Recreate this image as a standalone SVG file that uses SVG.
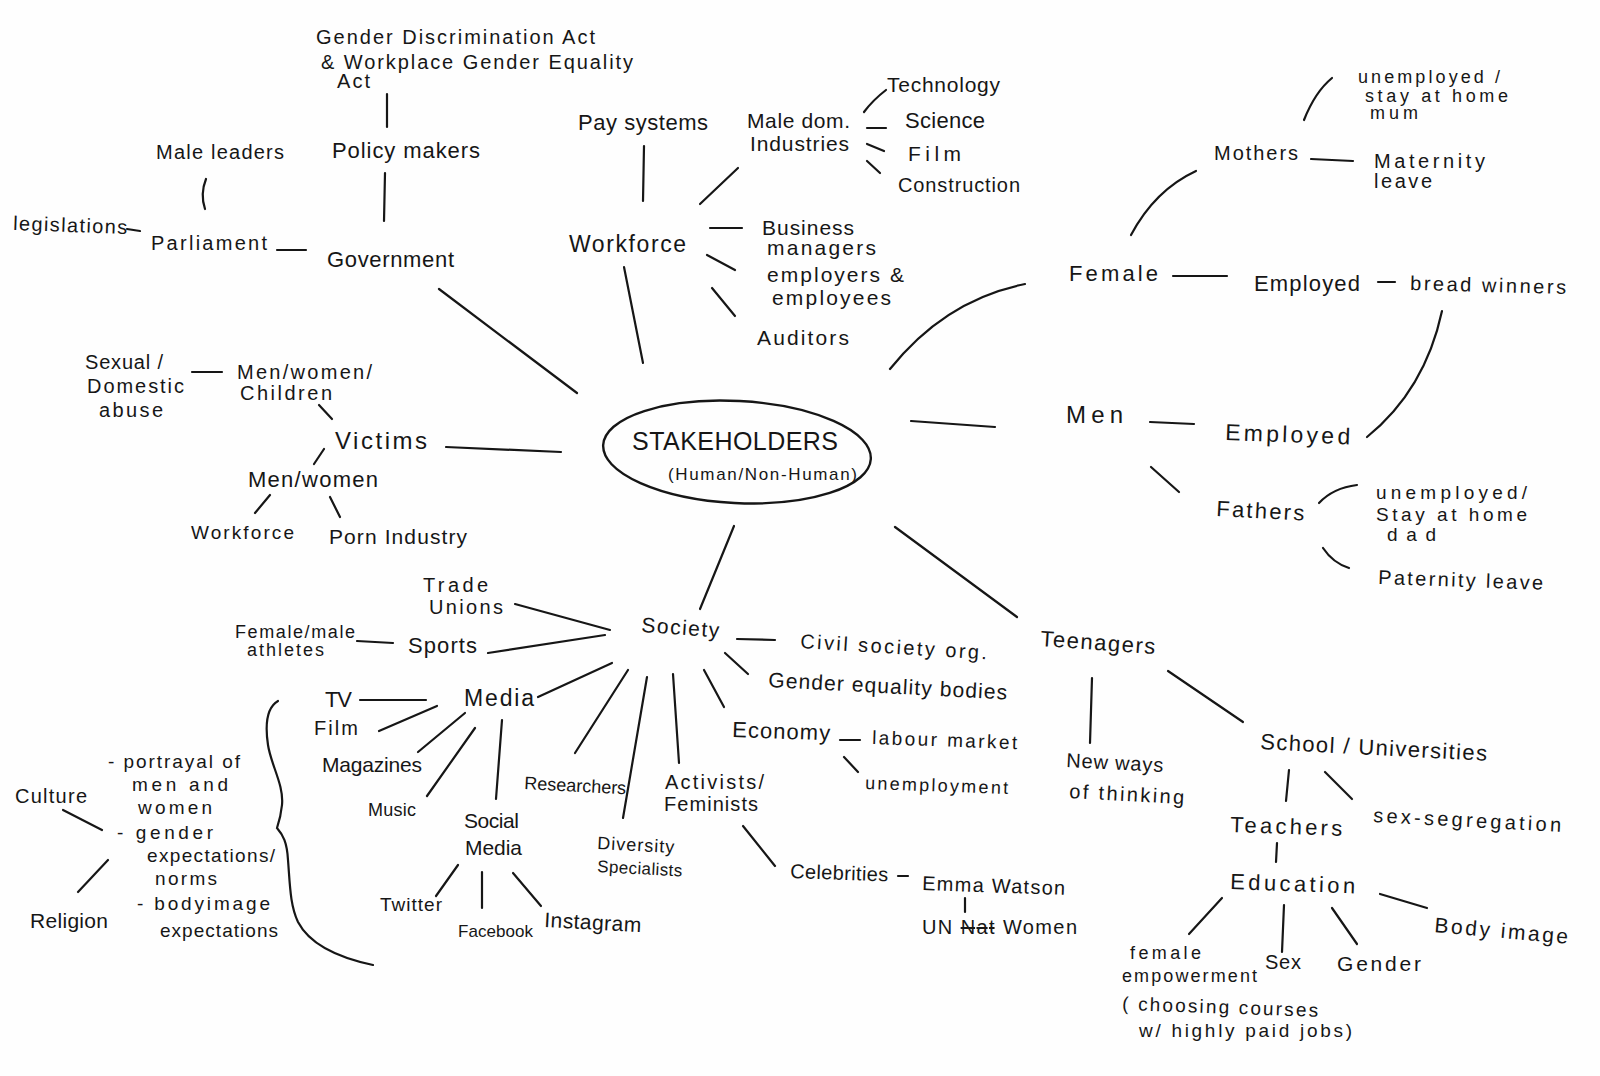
<svg xmlns="http://www.w3.org/2000/svg" width="1600" height="1076" viewBox="0 0 1600 1076">
<style>
text{font-family:"Liberation Sans",Arial,sans-serif;fill:#161616}
.s16{font-size:16px}.s17{font-size:17px}.s18{font-size:18px}.s19{font-size:19px}.s20{font-size:20px}.s21{font-size:21px}.s22{font-size:22px}.s23{font-size:23px}.s24{font-size:24px}.s25{font-size:25px}
#connectors path,#connectors line{stroke:#161616;stroke-width:2.2;fill:none;stroke-linecap:round}
</style>
<rect width="1600" height="1076" fill="#fefefe"/>
<g id="connectors">
<line x1="387" y1="94" x2="387" y2="127"/>
<line x1="385" y1="173" x2="384" y2="221"/>
<path d="M206,179 Q200,194 205,209"/>
<line x1="127" y1="229" x2="140" y2="231"/>
<line x1="277" y1="250" x2="306" y2="250"/>
<line x1="439" y1="289" x2="577" y2="393"/>
<line x1="644" y1="146" x2="643" y2="201"/>
<line x1="624" y1="267" x2="643" y2="363"/>
<line x1="700" y1="204" x2="738" y2="168"/>
<path d="M864,112 Q873,100 886,90"/>
<line x1="867" y1="128" x2="886" y2="128"/>
<line x1="867" y1="144" x2="884" y2="151"/>
<line x1="867" y1="161" x2="880" y2="173"/>
<line x1="710" y1="228" x2="742" y2="228"/>
<line x1="707" y1="255" x2="735" y2="270"/>
<line x1="712" y1="288" x2="735" y2="316"/>
<path d="M890,369 Q945,300 1025,284"/>
<path d="M1131,235 Q1155,190 1196,171"/>
<path d="M1304,120 Q1315,92 1332,78"/>
<line x1="1311" y1="159" x2="1353" y2="161"/>
<line x1="1173" y1="276" x2="1227" y2="276"/>
<line x1="1378" y1="282" x2="1395" y2="282"/>
<path d="M1442,311 Q1425,390 1367,437"/>
<line x1="911" y1="421" x2="995" y2="427"/>
<line x1="1150" y1="422" x2="1194" y2="424"/>
<line x1="1151" y1="467" x2="1179" y2="492"/>
<path d="M1319,503 Q1333,488 1357,485"/>
<path d="M1323,548 Q1333,563 1349,568"/>
<line x1="895" y1="527" x2="1017" y2="617"/>
<line x1="192" y1="372" x2="222" y2="372"/>
<line x1="319" y1="405" x2="332" y2="419"/>
<line x1="446" y1="447" x2="561" y2="452"/>
<line x1="324" y1="449" x2="314" y2="464"/>
<line x1="270" y1="495" x2="255" y2="513"/>
<line x1="330" y1="497" x2="340" y2="517"/>
<line x1="734" y1="526" x2="700" y2="609"/>
<line x1="515" y1="604" x2="610" y2="630"/>
<line x1="357" y1="641" x2="393" y2="643"/>
<line x1="488" y1="653" x2="605" y2="635"/>
<line x1="737" y1="639" x2="775" y2="640"/>
<line x1="725" y1="653" x2="748" y2="674"/>
<line x1="704" y1="670" x2="724" y2="707"/>
<line x1="840" y1="740" x2="860" y2="740"/>
<line x1="844" y1="757" x2="858" y2="772"/>
<line x1="673" y1="674" x2="679" y2="763"/>
<line x1="647" y1="677" x2="623" y2="818"/>
<line x1="628" y1="670" x2="575" y2="753"/>
<line x1="612" y1="663" x2="538" y2="697"/>
<line x1="360" y1="700" x2="426" y2="700"/>
<line x1="379" y1="731" x2="437" y2="706"/>
<line x1="418" y1="752" x2="465" y2="713"/>
<line x1="427" y1="796" x2="475" y2="728"/>
<line x1="496" y1="799" x2="502" y2="720"/>
<line x1="458" y1="865" x2="436" y2="896"/>
<line x1="482" y1="872" x2="482" y2="908"/>
<line x1="513" y1="873" x2="541" y2="906"/>
<line x1="743" y1="826" x2="775" y2="866"/>
<line x1="898" y1="876" x2="908" y2="876"/>
<line x1="965" y1="898" x2="965" y2="912"/>
<path d="M278,701 C266,708 265,725 268,745 C271,765 284,785 282,805 C281,815 279,822 277,828 C283,835 287,842 288,860 C290,885 290,905 298,922 C310,945 340,958 373,965"/>
<line x1="63" y1="810" x2="102" y2="830"/>
<line x1="108" y1="860" x2="78" y2="892"/>
<line x1="1092" y1="678" x2="1090" y2="743"/>
<line x1="1168" y1="671" x2="1243" y2="722"/>
<line x1="1289" y1="770" x2="1286" y2="801"/>
<line x1="1325" y1="772" x2="1352" y2="799"/>
<line x1="1277" y1="843" x2="1276" y2="862"/>
<line x1="1222" y1="898" x2="1189" y2="934"/>
<line x1="1284" y1="905" x2="1282" y2="952"/>
<line x1="1332" y1="908" x2="1357" y2="944"/>
<line x1="1380" y1="894" x2="1427" y2="908"/>
</g>
<g id="center">
<ellipse cx="737" cy="452" rx="134" ry="51" transform="rotate(3 737 452)" fill="none" stroke="#161616" stroke-width="2.4"/>
<text class="s25" x="632" y="450" textLength="206">STAKEHOLDERS</text>
<text class="s17" x="668" y="480" textLength="189">(Human/Non-Human)</text>
</g>
<g id="gda"><text class="s20" x="316" y="44" textLength="279">Gender Discrimination Act</text><text class="s20" x="321" y="69" textLength="312">&amp; Workplace Gender Equality</text><text class="s20" x="337" y="88" textLength="33">Act</text></g>
<g id="policy"><text class="s22" x="332" y="158" textLength="148">Policy makers</text></g>
<g id="maleleaders"><text class="s20" x="156" y="159" textLength="128">Male leaders</text></g>
<g id="legislations"><text class="s20" x="13" y="230" textLength="114" transform="rotate(2 13 230)">legislations</text></g>
<g id="parliament"><text class="s20" x="151" y="250" textLength="116">Parliament</text></g>
<g id="government"><text class="s22" x="327" y="267" textLength="127">Government</text></g>
<g id="pay"><text class="s22" x="578" y="130" textLength="130">Pay systems</text></g>
<g id="workforce"><text class="s23" x="569" y="252" textLength="117">Workforce</text></g>
<g id="maledom"><text class="s21" x="747" y="128" textLength="103">Male dom.</text><text class="s21" x="750" y="151" textLength="99">Industries</text></g>
<g id="technology"><text class="s21" x="887" y="92" textLength="113">Technology</text></g>
<g id="science"><text class="s22" x="905" y="128" textLength="80">Science</text></g>
<g id="film1"><text class="s21" x="908" y="161" textLength="53">Film</text></g>
<g id="construction"><text class="s20" x="898" y="192" textLength="122">Construction</text></g>
<g id="business"><text class="s21" x="762" y="235" textLength="92">Business</text><text class="s21" x="767" y="255" textLength="109">managers</text></g>
<g id="employers"><text class="s21" x="767" y="282" textLength="137">employers &amp;</text><text class="s21" x="772" y="305" textLength="119">employees</text></g>
<g id="auditors"><text class="s21" x="757" y="345" textLength="92">Auditors</text></g>
<g id="unemp-mum"><text class="s18" x="1358" y="83" textLength="142">unemployed /</text><text class="s18" x="1365" y="102" textLength="143">stay at home</text><text class="s18" x="1370" y="119" textLength="48">mum</text></g>
<g id="mothers"><text class="s20" x="1214" y="160" textLength="84">Mothers</text></g>
<g id="maternity"><text class="s20" x="1374" y="168" textLength="111">Maternity</text><text class="s20" x="1374" y="188" textLength="58">leave</text></g>
<g id="female"><text class="s22" x="1069" y="281" textLength="89">Female</text></g>
<g id="employed-f"><text class="s22" x="1254" y="291" textLength="106">Employed</text></g>
<g id="breadwinners"><text class="s20" x="1410" y="290" textLength="156" transform="rotate(1.5 1410 290)">bread winners</text></g>
<g id="men"><text class="s24" x="1066" y="423" textLength="57">Men</text></g>
<g id="employed-m"><text class="s23" x="1225" y="440" textLength="125" transform="rotate(2 1225 440)">Employed</text></g>
<g id="fathers"><text class="s22" x="1216" y="516" textLength="88" transform="rotate(3 1216 516)">Fathers</text></g>
<g id="unemp-dad"><text class="s19" x="1376" y="499" textLength="151">unemployed/</text><text class="s19" x="1376" y="521" textLength="151">Stay at home</text><text class="s19" x="1387" y="541" textLength="49">dad</text></g>
<g id="paternity"><text class="s20" x="1378" y="584" textLength="165" transform="rotate(2 1378 584)">Paternity leave</text></g>
<g id="teenagers"><text class="s22" x="1040" y="646" textLength="115" transform="rotate(4 1040 646)">Teenagers</text></g>
<g id="sexual"><text class="s20" x="85" y="369" textLength="78">Sexual /</text><text class="s20" x="87" y="393" textLength="97">Domestic</text><text class="s20" x="99" y="417" textLength="64">abuse</text></g>
<g id="mwc"><text class="s20" x="237" y="379" textLength="135">Men/women/</text><text class="s20" x="240" y="400" textLength="92">Children</text></g>
<g id="victims"><text class="s24" x="335" y="449" textLength="92">Victims</text></g>
<g id="mw"><text class="s22" x="248" y="487" textLength="130">Men/women</text></g>
<g id="workforce2"><text class="s19" x="191" y="539" textLength="103">Workforce</text></g>
<g id="porn"><text class="s21" x="329" y="544" textLength="138">Porn Industry</text></g>
<g id="trade"><text class="s20" x="423" y="592" textLength="65">Trade</text><text class="s20" x="429" y="614" textLength="74">Unions</text></g>
<g id="athletes"><text class="s18" x="235" y="638" textLength="120">Female/male</text><text class="s18" x="247" y="656" textLength="77">athletes</text></g>
<g id="sports"><text class="s22" x="408" y="653" textLength="69">Sports</text></g>
<g id="society"><text class="s21" x="641" y="632" textLength="78" transform="rotate(4 641 632)">Society</text></g>
<g id="civil"><text class="s20" x="800" y="648" textLength="187" transform="rotate(3.5 800 648)">Civil society org.</text></g>
<g id="gendereq"><text class="s21" x="768" y="687" textLength="239" transform="rotate(3 768 687)">Gender equality bodies</text></g>
<g id="economy"><text class="s22" x="732" y="737" textLength="98" transform="rotate(2 732 737)">Economy</text></g>
<g id="labour"><text class="s19" x="872" y="744" textLength="145" transform="rotate(2 872 744)">labour market</text></g>
<g id="unemployment"><text class="s18" x="865" y="789" textLength="143" transform="rotate(2 865 789)">unemployment</text></g>
<g id="media"><text class="s23" x="464" y="706" textLength="70">Media</text></g>
<g id="tv"><text class="s22" x="325" y="707" textLength="27">TV</text></g>
<g id="film2"><text class="s20" x="314" y="735" textLength="44">Film</text></g>
<g id="magazines"><text class="s21" x="322" y="772" textLength="100">Magazines</text></g>
<g id="music"><text class="s18" x="368" y="816" textLength="48">Music</text></g>
<g id="socialmedia"><text class="s21" x="464" y="828" textLength="55">Social</text><text class="s21" x="465" y="855" textLength="57">Media</text></g>
<g id="twitter"><text class="s19" x="380" y="911" textLength="62">Twitter</text></g>
<g id="facebook"><text class="s17" x="458" y="937" textLength="75">Facebook</text></g>
<g id="instagram"><text class="s21" x="544" y="927" textLength="97" transform="rotate(3 544 927)">Instagram</text></g>
<g id="researchers"><text class="s18" x="524" y="789" textLength="102" transform="rotate(3 524 789)">Researchers</text></g>
<g id="diversity"><text class="s18" x="597" y="849" textLength="77" transform="rotate(3 597 849)">Diversity</text><text class="s17" x="597" y="872" textLength="85" transform="rotate(3 597 872)">Specialists</text></g>
<g id="activists"><text class="s20" x="665" y="789" textLength="99">Activists/</text><text class="s20" x="664" y="811" textLength="94">Feminists</text></g>
<g id="celebrities"><text class="s20" x="790" y="878" textLength="98" transform="rotate(2 790 878)">Celebrities</text></g>
<g id="emma"><text class="s20" x="922" y="890" textLength="143" transform="rotate(2 922 890)">Emma Watson</text></g>
<g id="un"><text class="s20" x="922" y="934" textLength="155">UN <tspan text-decoration="line-through">Nat</tspan> Women</text></g>
<g id="portrayal"><text class="s19" x="108" y="768" textLength="132">- portrayal of</text><text class="s19" x="132" y="791" textLength="96">men and</text><text class="s19" x="138" y="814" textLength="74">women</text><text class="s19" x="117" y="839" textLength="96">-  gender</text><text class="s19" x="147" y="862" textLength="128">expectations/</text><text class="s19" x="155" y="885" textLength="62">norms</text><text class="s19" x="137" y="910" textLength="133">- bodyimage</text><text class="s19" x="160" y="937" textLength="118">expectations</text></g>
<g id="culture"><text class="s20" x="15" y="803" textLength="72">Culture</text></g>
<g id="religion"><text class="s21" x="30" y="928" textLength="78">Religion</text></g>
<g id="newways"><text class="s20" x="1066" y="767" textLength="97" transform="rotate(3 1066 767)">New ways</text><text class="s20" x="1069" y="798" textLength="115" transform="rotate(3 1069 798)">of thinking</text></g>
<g id="school"><text class="s22" x="1260" y="749" textLength="227" transform="rotate(3 1260 749)">School / Universities</text></g>
<g id="sexseg"><text class="s20" x="1373" y="822" textLength="188" transform="rotate(3 1373 822)">sex-segregation</text></g>
<g id="teachers"><text class="s22" x="1230" y="832" textLength="112" transform="rotate(2 1230 832)">Teachers</text></g>
<g id="education"><text class="s22" x="1230" y="889" textLength="125" transform="rotate(2 1230 889)">Education</text></g>
<g id="bodyimage"><text class="s21" x="1434" y="932" textLength="134" transform="rotate(5 1434 932)">Body image</text></g>
<g id="gender"><text class="s21" x="1337" y="971" textLength="84">Gender</text></g>
<g id="sex"><text class="s20" x="1265" y="969" textLength="36">Sex</text></g>
<g id="empowerment"><text class="s18" x="1130" y="959" textLength="71">female</text><text class="s18" x="1122" y="982" textLength="135">empowerment</text><text class="s19" x="1122" y="1010" textLength="196" transform="rotate(2 1122 1010)">( choosing courses</text><text class="s19" x="1139" y="1037" textLength="213">w/ highly paid jobs)</text></g>
</svg>
